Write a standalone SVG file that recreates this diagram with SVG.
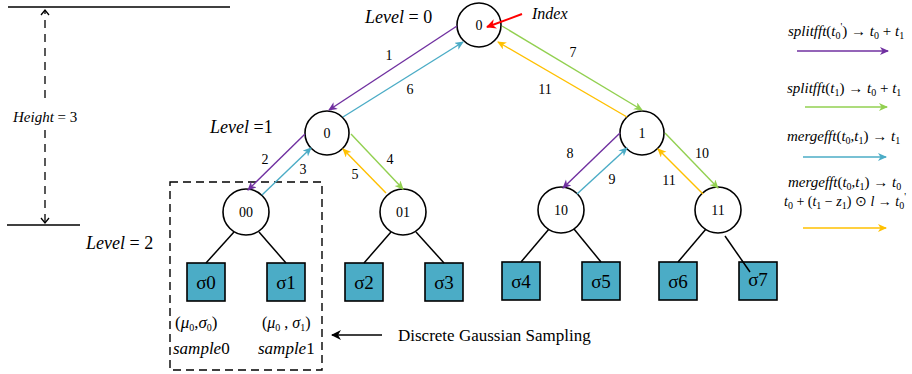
<svg xmlns="http://www.w3.org/2000/svg" width="912" height="374" viewBox="0 0 912 374">
<defs>
<marker id="mP" markerWidth="10" markerHeight="10" refX="8" refY="4" orient="auto" markerUnits="userSpaceOnUse"><path d="M0,0 L9,4 L0,8 L2.5,4 z" fill="#7030A0"/></marker>
<marker id="mG" markerWidth="10" markerHeight="10" refX="8" refY="4" orient="auto" markerUnits="userSpaceOnUse"><path d="M0,0 L9,4 L0,8 L2.5,4 z" fill="#92D050"/></marker>
<marker id="mC" markerWidth="10" markerHeight="10" refX="8" refY="4" orient="auto" markerUnits="userSpaceOnUse"><path d="M0,0 L9,4 L0,8 L2.5,4 z" fill="#4BACC6"/></marker>
<marker id="mY" markerWidth="10" markerHeight="10" refX="8" refY="4" orient="auto" markerUnits="userSpaceOnUse"><path d="M0,0 L9,4 L0,8 L2.5,4 z" fill="#FFC000"/></marker>
<marker id="mR" markerWidth="12" markerHeight="12" refX="9" refY="5" orient="auto" markerUnits="userSpaceOnUse"><path d="M0,0 L10,5 L0,10 L3,5 z" fill="#FF0000"/></marker>
<marker id="mK" markerWidth="12" markerHeight="12" refX="9" refY="5" orient="auto" markerUnits="userSpaceOnUse"><path d="M0,0 L10,5 L0,10 L3,5 z" fill="#000"/></marker>
<marker id="mO" markerWidth="12" markerHeight="12" refX="6" refY="5" orient="auto" markerUnits="userSpaceOnUse"><path d="M1,1 L6,5 L1,9" fill="none" stroke="#000" stroke-width="1.3"/></marker>
</defs>
<style>
text{font-family:"Liberation Serif","Times New Roman",serif;fill:#000}
.it{font-style:italic}
.node circle{fill:#fff;stroke:#000;stroke-width:1.6}
.node text{font-size:14px;text-anchor:middle}
.leaf rect{fill:#4BACC6;stroke:#000;stroke-width:1.6}
.leaf text{font-size:19px;text-anchor:middle}
.edge{stroke:#000;stroke-width:1.5;fill:none}
.p{stroke:#7030A0;stroke-width:1.4;fill:none;marker-end:url(#mP)}
.g{stroke:#92D050;stroke-width:1.4;fill:none;marker-end:url(#mG)}
.c{stroke:#4BACC6;stroke-width:1.4;fill:none;marker-end:url(#mC)}
.y{stroke:#FFC000;stroke-width:1.4;fill:none;marker-end:url(#mY)}
.num{font-size:14px;text-anchor:middle}
.lg{font-size:15px}
.sub{font-size:10px;font-style:normal}
</style>

<!-- height dimension -->
<g id="height">
<line x1="8" y1="7" x2="230" y2="7" stroke="#000" stroke-width="1.3"/>
<line x1="7" y1="225" x2="80" y2="225" stroke="#000" stroke-width="1.3"/>
<line x1="45" y1="98" x2="45" y2="10" stroke="#000" stroke-width="1.3" stroke-dasharray="8,6" marker-end="url(#mO)"/>
<line x1="45" y1="130" x2="45" y2="223" stroke="#000" stroke-width="1.3" stroke-dasharray="8,6" marker-end="url(#mO)"/>
<text x="13" y="122" font-size="15" class="it">Height<tspan font-style="normal"> = 3</tspan></text>
</g>

<text x="365" y="23" font-size="18" class="it">Level<tspan font-style="normal"> = 0</tspan></text>
<text x="210" y="133" font-size="18" class="it">Level<tspan font-style="normal"> =1</tspan></text>
<text x="86" y="249" font-size="18" class="it">Level<tspan font-style="normal"> = 2</tspan></text>

<!-- dashed box -->
<rect x="170" y="182" width="152" height="188" fill="none" stroke="#000" stroke-width="1.4" stroke-dasharray="8,5"/>

<!-- nodes -->
<g id="n-root" class="node"><circle cx="479" cy="25" r="22"/><text x="479" y="30">0</text></g>
<g id="n-l1-0" class="node"><circle cx="327" cy="133" r="22"/><text x="327" y="138">0</text></g>
<g id="n-l1-1" class="node"><circle cx="642" cy="133" r="22"/><text x="642" y="138">1</text></g>
<g id="n-00" class="node"><circle cx="246" cy="212" r="23"/><text x="246" y="217">00</text></g>
<g id="n-01" class="node"><circle cx="403" cy="212" r="23"/><text x="403" y="217">01</text></g>
<g id="n-10" class="node"><circle cx="561" cy="210" r="23"/><text x="561" y="215">10</text></g>
<g id="n-11" class="node"><circle cx="718" cy="210" r="23"/><text x="718" y="215">11</text></g>

<g id="s0" class="leaf"><rect x="187" y="263" width="38" height="38"/><text x="206" y="289">σ0</text></g>
<g id="s1" class="leaf"><rect x="267" y="263" width="38" height="38"/><text x="286" y="289">σ1</text></g>
<g id="s2" class="leaf"><rect x="345" y="263" width="38" height="38"/><text x="364" y="289">σ2</text></g>
<g id="s3" class="leaf"><rect x="425" y="263" width="38" height="38"/><text x="444" y="289">σ3</text></g>
<g id="s4" class="leaf"><rect x="502" y="262" width="38" height="38"/><text x="521" y="288">σ4</text></g>
<g id="s5" class="leaf"><rect x="582" y="262" width="38" height="38"/><text x="601" y="288">σ5</text></g>
<g id="s6" class="leaf"><rect x="659" y="262" width="38" height="38"/><text x="678" y="288">σ6</text></g>
<g id="s7" class="leaf"><rect x="739" y="262" width="38" height="38"/><text x="758" y="286">σ7</text></g>

<!-- tree edges and colored connectors -->
<g id="connectors">
<line class="edge" x1="234" y1="232" x2="206" y2="263"/>
<line class="edge" x1="259" y1="232" x2="286" y2="263"/>
<line class="edge" x1="391" y1="232" x2="364" y2="263"/>
<line class="edge" x1="416" y1="232" x2="444" y2="263"/>
<line class="edge" x1="549" y1="229" x2="521" y2="262"/>
<line class="edge" x1="574" y1="229" x2="601" y2="262"/>
<line class="edge" x1="706" y1="229" x2="678" y2="262"/>
<line class="edge" x1="725" y1="236" x2="750" y2="272"/>

<line class="p" x1="457" y1="26" x2="329" y2="110"/>
<line class="c" x1="343" y1="117" x2="463" y2="42"/>
<line class="p" x1="305" y1="134" x2="248" y2="190"/>
<line class="c" x1="262" y1="195" x2="311" y2="148"/>
<line class="g" x1="351" y1="134" x2="403" y2="189"/>
<line class="y" x1="386" y1="193" x2="343" y2="149"/>
<line class="g" x1="502" y1="26" x2="642" y2="110"/>
<line class="y" x1="627" y1="117" x2="498" y2="42"/>
<line class="p" x1="620" y1="133" x2="563" y2="188"/>
<line class="c" x1="577" y1="194" x2="627" y2="148"/>
<line class="g" x1="665" y1="133" x2="718" y2="188"/>
<line class="y" x1="703" y1="194" x2="658" y2="149"/>

<line x1="522" y1="14" x2="487" y2="27" stroke="#FF0000" stroke-width="2" marker-end="url(#mR)"/>
<line x1="382" y1="335" x2="332" y2="335" stroke="#000" stroke-width="1.5" marker-end="url(#mK)"/>
</g>

<g id="edge-labels">
<text class="num" x="389" y="60">1</text>
<text class="num" x="410" y="94">6</text>
<text class="num" x="265" y="164">2</text>
<text class="num" x="303" y="174">3</text>
<text class="num" x="390" y="164">4</text>
<text class="num" x="355" y="179">5</text>
<text class="num" x="573" y="57">7</text>
<text class="num" x="545" y="94">11</text>
<text class="num" x="570" y="158">8</text>
<text class="num" x="612" y="184">9</text>
<text class="num" x="702" y="158">10</text>
<text class="num" x="669" y="185">11</text>
</g>

<text x="532" y="19" font-size="16" class="it">Index</text>

<!-- sample labels -->
<text x="175" y="328" font-size="17">(<tspan class="it">μ</tspan><tspan class="sub" dy="3">0</tspan><tspan dy="-3">,</tspan><tspan class="it">σ</tspan><tspan class="sub" dy="3">0</tspan><tspan dy="-3">)</tspan></text>
<text x="173" y="354" font-size="17" class="it">sample<tspan font-style="normal">0</tspan></text>
<text x="262" y="328" font-size="16">(<tspan class="it">μ</tspan><tspan class="sub" dy="3">0</tspan><tspan dy="-3"> , </tspan><tspan class="it">σ</tspan><tspan class="sub" dy="3">1</tspan><tspan dy="-3">)</tspan></text>
<text x="258" y="354" font-size="17" class="it">sample<tspan font-style="normal">1</tspan></text>

<text x="398" y="341" font-size="17">Discrete Gaussian Sampling</text>

<!-- legend -->
<g id="legend">
<text class="lg" x="788" y="36"><tspan class="it">splitfft</tspan>(<tspan class="it">t</tspan><tspan class="sub" dy="3">0</tspan><tspan class="sub" dy="-9">'</tspan><tspan dy="6">) → </tspan><tspan class="it">t</tspan><tspan class="sub" dy="3">0</tspan><tspan dy="-3"> + </tspan><tspan class="it">t</tspan><tspan class="sub" dy="3">1</tspan></text>
<line x1="797" y1="51" x2="888" y2="51" class="p"/>
<text class="lg" x="787" y="93"><tspan class="it">splitfft</tspan>(<tspan class="it">t</tspan><tspan class="sub" dy="3">1</tspan><tspan dy="-3">) → </tspan><tspan class="it">t</tspan><tspan class="sub" dy="3">0</tspan><tspan dy="-3"> + </tspan><tspan class="it">t</tspan><tspan class="sub" dy="3">1</tspan></text>
<line x1="805" y1="107" x2="887" y2="107" class="g"/>
<text class="lg" x="787" y="141"><tspan class="it">mergefft</tspan>(<tspan class="it">t</tspan><tspan class="sub" dy="3">0</tspan><tspan dy="-3">,</tspan><tspan class="it">t</tspan><tspan class="sub" dy="3">1</tspan><tspan dy="-3">) → </tspan><tspan class="it">t</tspan><tspan class="sub" dy="3">1</tspan></text>
<line x1="803" y1="157" x2="886" y2="157" class="c"/>
<text class="lg" x="788" y="187"><tspan class="it">mergefft</tspan>(<tspan class="it">t</tspan><tspan class="sub" dy="3">0</tspan><tspan dy="-3">,</tspan><tspan class="it">t</tspan><tspan class="sub" dy="3">1</tspan><tspan dy="-3">) → </tspan><tspan class="it">t</tspan><tspan class="sub" dy="3">0</tspan></text>
<text x="784" y="206" font-size="14"><tspan class="it">t</tspan><tspan class="sub" dy="3">0</tspan><tspan dy="-3"> + (</tspan><tspan class="it">t</tspan><tspan class="sub" dy="3">1</tspan><tspan dy="-3"> − </tspan><tspan class="it">z</tspan><tspan class="sub" dy="3">1</tspan><tspan dy="-3">) ⊙ </tspan><tspan class="it">l</tspan><tspan> → </tspan><tspan class="it">t</tspan><tspan class="sub" dy="3">0</tspan><tspan class="sub" dy="-9">'</tspan></text>
<line x1="803" y1="228" x2="886" y2="228" class="y"/>
</g>
</svg>
